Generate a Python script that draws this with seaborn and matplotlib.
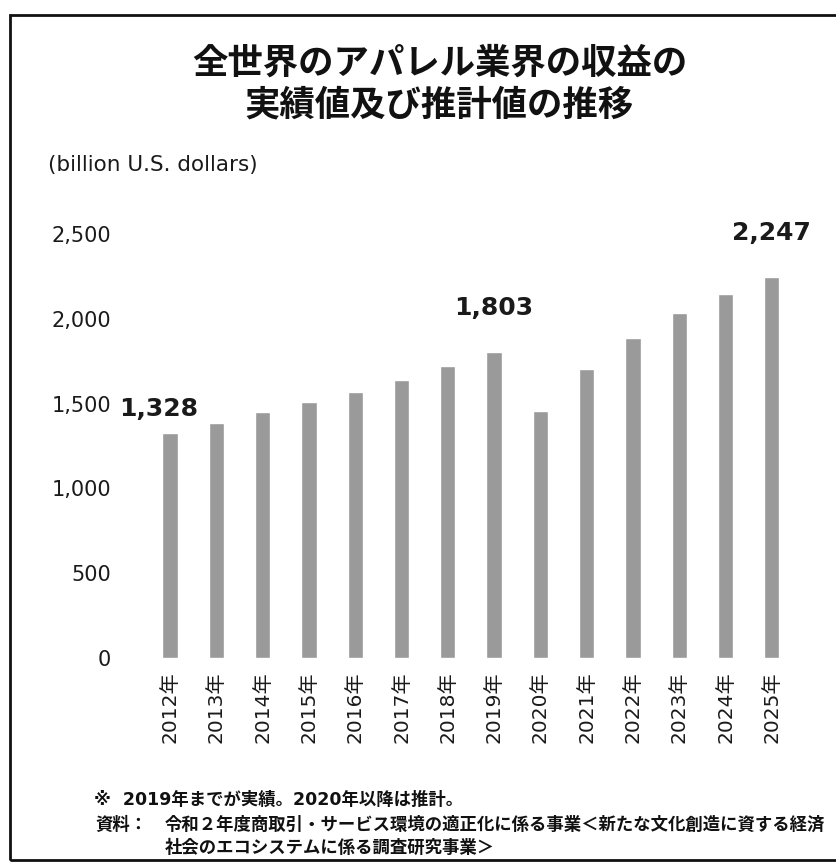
import matplotlib
matplotlib.use("Agg")
import matplotlib.pyplot as plt
import seaborn as sns
import pandas as pd
from matplotlib.patches import Rectangle

years = ["2012年", "2013年", "2014年", "2015年", "2016年", "2017年", "2018年",
         "2019年", "2020年", "2021年", "2022年", "2023年", "2024年", "2025年"]
revenue = [1328, 1383, 1450, 1511, 1571, 1638, 1723, 1803, 1455, 1705, 1884, 2033, 2147, 2247]
labeled = {"2012年": "1,328", "2019年": "1,803", "2025年": "2,247"}
yticks = [0, 500, 1000, 1500, 2000, 2500]

sns.set_theme(style="white")
plt.rcParams["font.family"] = ["DejaVu Sans", "Noto Sans CJK JP"]

df = pd.DataFrame({"year": years, "revenue": revenue})

fig = plt.figure(figsize=(8.37, 8.67), dpi=100)
ax = fig.add_axes([0.1756, 0.2411, 0.7742, 0.489])
sns.barplot(data=df, x="year", y="revenue", color="#9a9a9a", saturation=1,
            width=0.33, ax=ax)
ax.set_xlim(-0.5, len(years) - 0.5)
ax.set_ylim(0, 2500)
ax.set_yticks(yticks)
ax.set_yticklabels([f"{v:,}" for v in yticks], fontsize=15, color="#1a1a1a")
ax.tick_params(axis="y", length=0, pad=26)
ax.tick_params(axis="x", length=0, pad=10)
for lab in ax.get_xticklabels():
    lab.set_rotation(90)
    lab.set_fontsize(14.5)
    lab.set_color("#1a1a1a")
    lab.set_family(["DejaVu Sans", "Noto Sans CJK JP"])
ax.set_xlabel("")
ax.set_ylabel("")
for s in ax.spines.values():
    s.set_visible(False)
ax.grid(False)

for i, (y, v) in enumerate(zip(years, revenue)):
    if y in labeled:
        dx = -0.25 if i == 0 else 0
        off = 70 if i == 0 else 190
        ax.text(i + dx, v + off, labeled[y], ha="center", va="bottom",
                fontsize=18, fontweight="bold", color="#1a1a1a", clip_on=False)

fig.text(0.525, 0.927, "全世界のアパレル業界の収益の", ha="center", va="center",
         fontsize=25.5, fontweight="bold", family=["Noto Sans CJK JP"], color="#111111")
fig.text(0.525, 0.879, "実績値及び推計値の推移", ha="center", va="center",
         fontsize=25.5, fontweight="bold", family=["Noto Sans CJK JP"], color="#111111")
fig.text(0.057, 0.81, "(billion U.S. dollars)", ha="left", va="center",
         fontsize=15.5, color="#1a1a1a")

fn = ["DejaVu Sans", "Noto Sans CJK JP"]
fig.text(0.112, 0.077, "※  2019年までが実績。2020年以降は推計。", ha="left", va="center",
         fontsize=12.5, fontweight="bold", family=fn, color="#111111")
fig.text(0.114, 0.049, "資料：", ha="left", va="center",
         fontsize=12.5, fontweight="bold", family=fn, color="#111111")
fig.text(0.197, 0.049, "令和２年度商取引・サービス環境の適正化に係る事業＜新たな文化創造に資する経済",
         ha="left", va="center", fontsize=12.5, fontweight="bold", family=fn, color="#111111")
fig.text(0.197, 0.022, "社会のエコシステムに係る調査研究事業＞",
         ha="left", va="center", fontsize=12.5, fontweight="bold", family=fn, color="#111111")

fig.patches.append(Rectangle((0.012, 0.008), 1.2, 0.975, transform=fig.transFigure,
                             fill=False, edgecolor="#111111", linewidth=2))

fig.savefig("out.png", dpi=100)
